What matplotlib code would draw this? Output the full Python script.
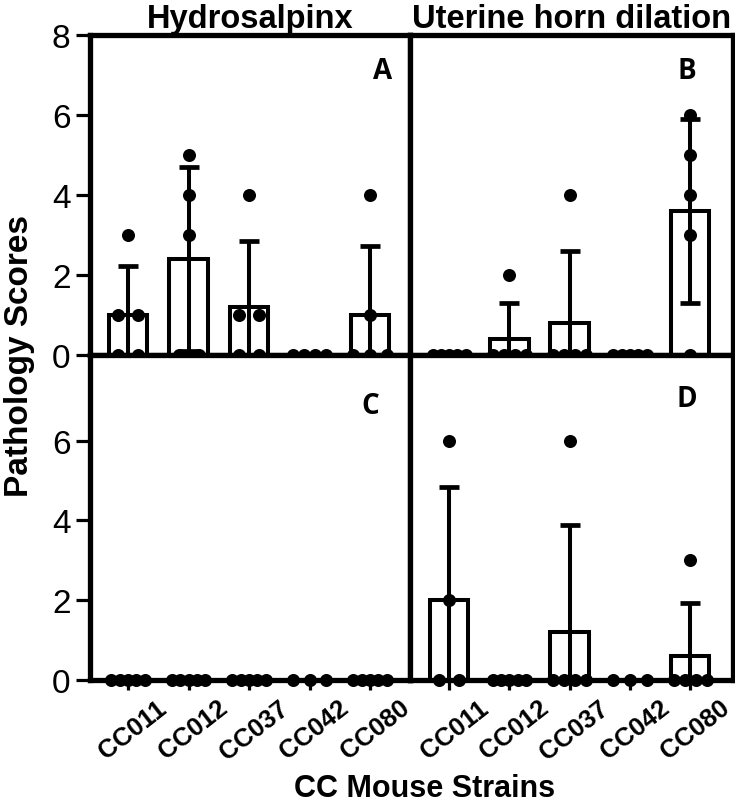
import numpy as np
import matplotlib
matplotlib.use("Agg")
import matplotlib.pyplot as plt
import matplotlib.transforms as mtransforms

plt.rcParams['font.family'] = ['Liberation Sans', 'DejaVu Sans']

STRAINS = ["CC011", "CC012", "CC037", "CC042", "CC080"]

# individual pathology scores per strain
A_hydro_left = [[0, 0, 1, 1, 3], [0, 0, 3, 4, 5], [0, 0, 1, 1, 4], [0, 0, 0, 0], [0, 0, 0, 1, 4]]
B_uterine_left = [[0, 0, 0, 0, 0], [0, 0, 0, 0, 2], [0, 0, 0, 0, 4], [0, 0, 0, 0, 0], [0, 3, 4, 5, 6]]
C_hydro_right = [[0, 0, 0, 0, 0], [0, 0, 0, 0, 0], [0, 0, 0, 0, 0], [0, 0, 0], [0, 0, 0, 0, 0]]
D_uterine_right = [[0, 0, 2, 6], [0, 0, 0, 0, 0], [0, 0, 0, 0, 6], [0, 0, 0], [0, 0, 0, 0, 3]]

PANELS = [("A", A_hydro_left), ("B", B_uterine_left), ("C", C_hydro_right), ("D", D_uterine_right)]
TITLES = ["Hydrosalpinx", "Uterine horn dilation"]

W, H = 735, 804
fig = plt.figure(figsize=(W / 100, H / 100), dpi=100)

def box(x0, y0, x1, y1):
    # pixel box (top-left origin) -> figure fraction
    return [x0 / W, 1 - y1 / H, (x1 - x0) / W, (y1 - y0) / H]

axes = {
    "A": fig.add_axes(box(90, 36, 410, 356)),
    "B": fig.add_axes(box(410, 36, 733, 356)),
    "C": fig.add_axes(box(90, 356, 410, 681)),
    "D": fig.add_axes(box(410, 356, 733, 681)),
}
letter_pos = {"A": (0.915, 0.89), "B": (0.858, 0.89), "C": (0.875, 0.845), "D": (0.858, 0.865)}

def spread(vals):
    # horizontal offsets so equal values sit side by side
    vals = np.asarray(vals, float)
    off = np.zeros(len(vals))
    for v in np.unique(vals):
        idx = np.where(vals == v)[0]
        n = len(idx)
        if n > 1:
            step = min(0.33, 0.55 / (n - 1))
            off[idx] = (np.arange(n) - (n - 1) / 2) * step
    return off

shift = mtransforms.ScaledTranslation(5 / 100, 0, fig.dpi_scale_trans)

for key, data in PANELS:
    ax = axes[key]
    x = np.arange(len(STRAINS))
    means = np.array([np.mean(d) for d in data])
    sds = np.array([np.std(d, ddof=1) for d in data])
    ax.bar(x, means, width=0.64, color="white", edgecolor="black", linewidth=2.9, zorder=2)
    ax.errorbar(x, means, yerr=sds, fmt="none", ecolor="black", elinewidth=2.9,
                capsize=7, capthick=3.4, zorder=3)
    for i, d in enumerate(data):
        ax.scatter(x[i] + spread(d), d, s=88, color="black", zorder=4, clip_on=False,
                   linewidths=0)

    top = key in ("A", "B")
    left = key in ("A", "C")
    ax.set_ylim(0, 8 if top else 8.15)
    ax.set_xlim(-0.63, 4.66) if left else ax.set_xlim(-0.65, 4.71)
    for s in ax.spines.values():
        s.set_linewidth(3.8)
        s.set_zorder(5)

    if left:
        ax.set_yticks([0, 2, 4, 6, 8] if top else [0, 2, 4, 6])
        ax.tick_params(axis="y", length=10, width=2.3, labelsize=24, pad=4)
    else:
        ax.set_yticks([])
    if top:
        ax.set_xticks([])
        ax.set_title(TITLES[0] if left else TITLES[1], fontsize=23.5, fontweight="bold", pad=6)
    else:
        ax.set_xticks(x)
        ax.set_xticklabels(STRAINS, rotation=38, fontsize=18.5, fontweight="bold",
                           ha="center", va="top")
        ax.tick_params(axis="x", length=7, width=2.3, pad=4)
        for lbl in ax.get_xticklabels():
            lbl.set_transform(lbl.get_transform() + shift)

    ax.text(*letter_pos[key], key, transform=ax.transAxes, fontsize=20, fontweight="bold",
            family=["Open Sans", "DejaVu Sans"], ha="center", va="center")

fig.text(20 / W, 1 - 356 / H, "Pathology Scores", rotation=90, fontsize=24,
         fontweight="bold", ha="center", va="center")
fig.text(425 / W, 1 - 797 / H, "CC Mouse Strains", fontsize=22, fontweight="bold",
         ha="center", va="baseline")

fig.savefig("out.png", dpi=100)
